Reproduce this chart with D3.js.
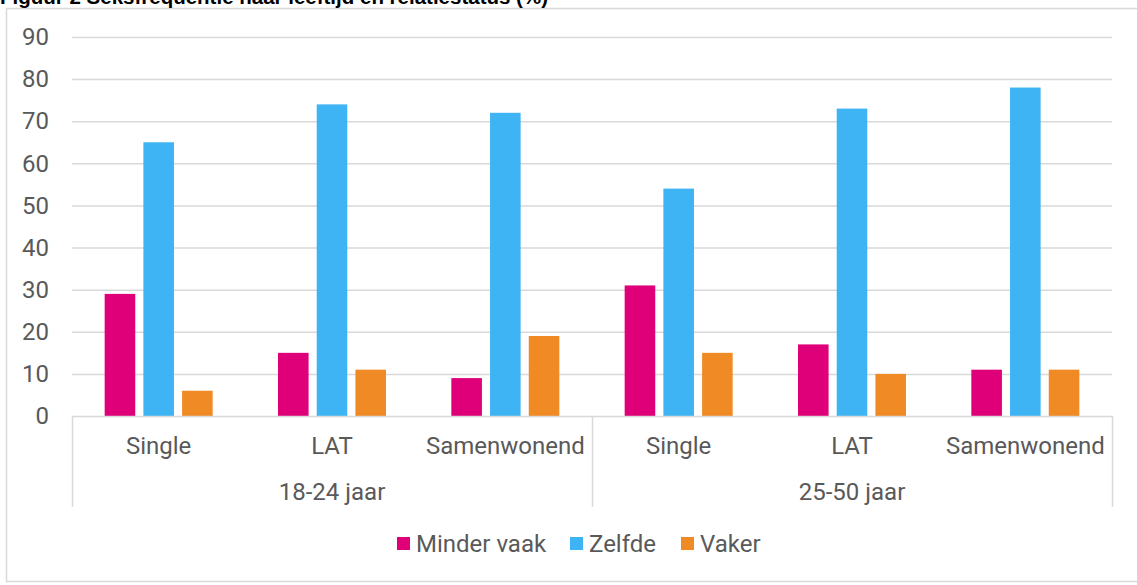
<!DOCTYPE html>
<html><head><meta charset="utf-8">
<script src="https://cdn.jsdelivr.net/npm/d3@7"></script>
<style>body{margin:0;background:#fff;}svg{display:block;}</style>
</head><body>
<svg id="c" width="1137" height="585"></svg>
<script>
const title = "Figuur 2 Seksfrequentie naar leeftijd en relatiestatus (%)";
const groups = ["18-24 jaar", "25-50 jaar"];
const statuses = ["Single", "LAT", "Samenwonend"];
const series = ["Minder vaak", "Zelfde", "Vaker"];
const colors = ["#df0079", "#3eb4f4", "#f08a24"];
const minderVaak = [29, 15, 9, 31, 17, 11];
const zelfde = [65, 74, 72, 54, 73, 78];
const vaker = [6, 11, 19, 15, 10, 11];
const yTicks = [0, 10, 20, 30, 40, 50, 60, 70, 80, 90];

const values = [minderVaak, zelfde, vaker];
const cats = [];
groups.forEach((g, gi) => statuses.forEach((s, si) => cats.push({g, s, key: g + "|" + s, i: gi * statuses.length + si})));

const svg = d3.select("#c");
const font = "Roboto, 'Liberation Sans', Arial, sans-serif";
const fs = 24;
const tc = "#595959";
const grid = "#d9d9d9";

// outer frame
svg.append("rect").attr("x", 6.5).attr("y", 8.5).attr("width", 1140).attr("height", 573)
  .attr("fill", "none").attr("stroke", grid).attr("stroke-width", 1.5);

svg.append("text").attr("x", 0).attr("y", 4).text(title)
  .attr("font-family", "'Liberation Sans', Arial, sans-serif").attr("font-weight", "bold")
  .attr("font-size", 20.5).attr("fill", "#000");

const L = 72, R = 1112, T = 37, B = 416;
const y = d3.scaleLinear().domain([0, 90]).range([B, T]);
const x0 = d3.scaleBand().domain(cats.map(c => c.key)).range([L, R]).paddingInner(0).paddingOuter(0);
const x1 = d3.scaleBand().domain(series).range([0, x0.bandwidth()]).paddingInner(0.21).paddingOuter(0.844);
const xg = d3.scaleBand().domain(groups).range([L, R]);

// gridlines
const gAxis = svg.append("g").attr("transform", `translate(${L},0)`)
  .call(d3.axisLeft(y).tickValues(yTicks).tickSize(-(R - L)).tickPadding(23));
gAxis.select(".domain").remove();
gAxis.selectAll(".tick line").attr("stroke", grid).attr("stroke-width", 1.5)
  .filter(d => d === 0).remove();
gAxis.selectAll(".tick text").attr("font-family", font).attr("font-size", fs).attr("fill", tc);

// bars
series.forEach((s, si) => {
  svg.append("g").selectAll("rect").data(cats).join("rect")
    .attr("x", c => x0(c.key) + x1(s))
    .attr("width", x1.bandwidth())
    .attr("y", c => y(values[si][c.i]))
    .attr("height", c => y(0) - y(values[si][c.i]))
    .attr("fill", colors[si]);
});

// category axis
svg.append("line").attr("x1", L).attr("x2", R).attr("y1", B + 0.5).attr("y2", B + 0.5)
  .attr("stroke", grid).attr("stroke-width", 1.5);
const bounds = [L, ...groups.map(g => xg(g) + xg.bandwidth())];
svg.append("g").selectAll("line").data(bounds).join("line")
  .attr("x1", d => d + 0.5).attr("x2", d => d + 0.5).attr("y1", B).attr("y2", 507)
  .attr("stroke", grid).attr("stroke-width", 1.5);
svg.append("g").selectAll("text").data(cats).join("text")
  .attr("x", c => x0(c.key) + x0.bandwidth() / 2).attr("y", 454)
  .attr("text-anchor", "middle").attr("font-family", font).attr("font-size", fs).attr("fill", tc)
  .text(c => c.s);
svg.append("g").selectAll("text").data(groups).join("text")
  .attr("x", g => xg(g) + xg.bandwidth() / 2).attr("y", 500)
  .attr("text-anchor", "middle").attr("font-family", font).attr("font-size", fs).attr("fill", tc)
  .text(g => g);

// legend
const legX = [397, 570, 681];
const leg = svg.append("g").selectAll("g").data(series).join("g")
  .attr("transform", (d, i) => `translate(${legX[i]},537)`);
leg.append("rect").attr("width", 13).attr("height", 13).attr("fill", (d, i) => colors[i]);
leg.append("text").attr("x", 19).attr("y", 15).attr("font-family", font).attr("font-size", fs)
  .attr("fill", tc).text(d => d);
</script>
</body></html>
